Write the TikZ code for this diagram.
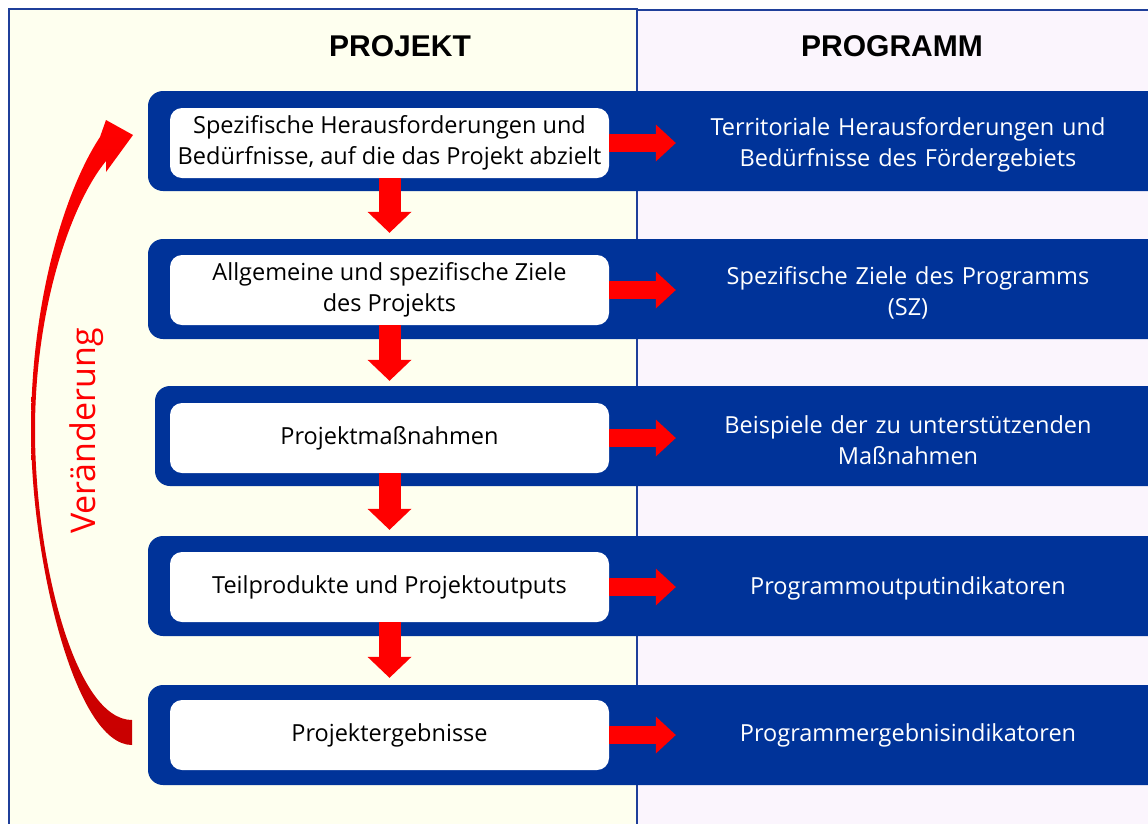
\documentclass[tikz,border=0pt]{standalone}
\usepackage{fontspec}
\setmainfont{Open Sans}
\newfontfamily\headfont{Liberation Sans}
\usetikzlibrary{arrows.meta}

\definecolor{barblue}{HTML}{003399}
\definecolor{frameblue}{HTML}{1F3F9A}
\definecolor{projbg}{HTML}{FEFFEF}
\definecolor{progbg}{HTML}{FBF5FD}
\definecolor{tailred}{HTML}{C80000}

\tikzset{
  rowbar/.style={fill=barblue, rounded corners=15pt, minimum height=100pt, inner sep=0pt},
  projbox/.style={fill=white, rounded corners=12pt, minimum width=439pt, minimum height=70pt,
    inner sep=0pt, align=center, font=\fontsize{23.5}{31}\selectfont},
  progtext/.style={text width=464pt, inner sep=0pt, align=center, text=white,
    font=\fontsize{23.5}{31}\selectfont},
  colhead/.style={font=\headfont\bfseries\fontsize{30}{36}\selectfont},
  downarr/.style={red, line width=22pt, shorten >=22pt,
    -{Triangle[length=21pt, width=44pt, line width=0pt]}},
  rightarr/.style={red, line width=18pt,
    -{Triangle[length=20pt, width=37pt, line width=0pt]}},
}

\begin{document}
\begin{tikzpicture}[x=1pt, y=-1pt]
\clip (0,0) rectangle (1148,823);

% panels
\filldraw[fill=projbg, draw=frameblue, line width=1.5pt] (9,9) rectangle (637,840);
\filldraw[fill=progbg, draw=frameblue, line width=1.5pt] (637,10) rectangle (1160,840);

\node[colhead] (projhead) at (400,46) {PROJEKT};
\node[colhead] (proghead) at (892,46) {PROGRAMM};

% rows
\node[rowbar, minimum width=1022pt] (bar1) at (659,141) {};
\node[rowbar, minimum width=1022pt] (bar2) at (659,289) {};
\node[rowbar, minimum width=1015pt] (bar3) at (662.5,436) {};
\node[rowbar, minimum width=1022pt] (bar4) at (659,586) {};
\node[rowbar, minimum width=1022pt] (bar5) at (659,735) {};

\node[projbox] (proj1) at (389.5,143) {Spezifische Herausforderungen und\\Bedürfnisse, auf die das Projekt abzielt};
\node[projbox] (proj2) at (389.5,290) {Allgemeine und spezifische Ziele\\des Projekts};
\node[projbox] (proj3) at (389.5,438) {Projektmaßnahmen};
\node[projbox] (proj4) at (389.5,587) {Teilprodukte und Projektoutputs};
\node[projbox] (proj5) at (389.5,735) {Projektergebnisse};

\node[progtext] (prog1) at (908,145) {Territoriale Herausforderungen und\\Bedürfnisse des Fördergebiets};
\node[progtext] (prog2) at (908,293) {Spezifische Ziele des Programms\\(SZ)};
\node[progtext] (prog3) at (908,440) {Beispiele der zu unterstützenden\\Maßnahmen};
\node[progtext] (prog4) at (908,588) {Programmoutputindikatoren};
\node[progtext] (prog5) at (908,735) {Programmergebnisindikatoren};

% arrows
\draw[downarr] (proj1) -- (proj2);
\draw[downarr] (proj2) -- (proj3);
\draw[downarr] (proj3) -- (proj4);
\draw[downarr] (proj4) -- (proj5);

\draw[rightarr] (proj1.east) -- (proj1.east -| prog1.west);
\draw[rightarr] (proj2.east) -- (proj2.east -| prog2.west);
\draw[rightarr] (proj3.east) -- (proj3.east -| prog3.west);
\draw[rightarr] (proj4.east) -- (proj4.east -| prog4.west);
\draw[rightarr] (proj5.east) -- (proj5.east -| prog5.west);

% curved arrow
\shade[top color=red, middle color=red, bottom color=tailred]
  (132,745) .. controls (75,745) and (31,560) .. (31,430)
  .. controls (31,300) and (65,190) .. (100,137)
  -- (106,120) -- (133,135) -- (106,172) -- (106,161)
  .. controls (70,205) and (35,310) .. (35,430)
  .. controls (35,560) and (75,720) .. (132,720) -- cycle;
\node[text=red, rotate=90, font=\fontsize{34}{40}\selectfont] (aenderung) at (87,431) {Veränderung};

\end{tikzpicture}
\end{document}
